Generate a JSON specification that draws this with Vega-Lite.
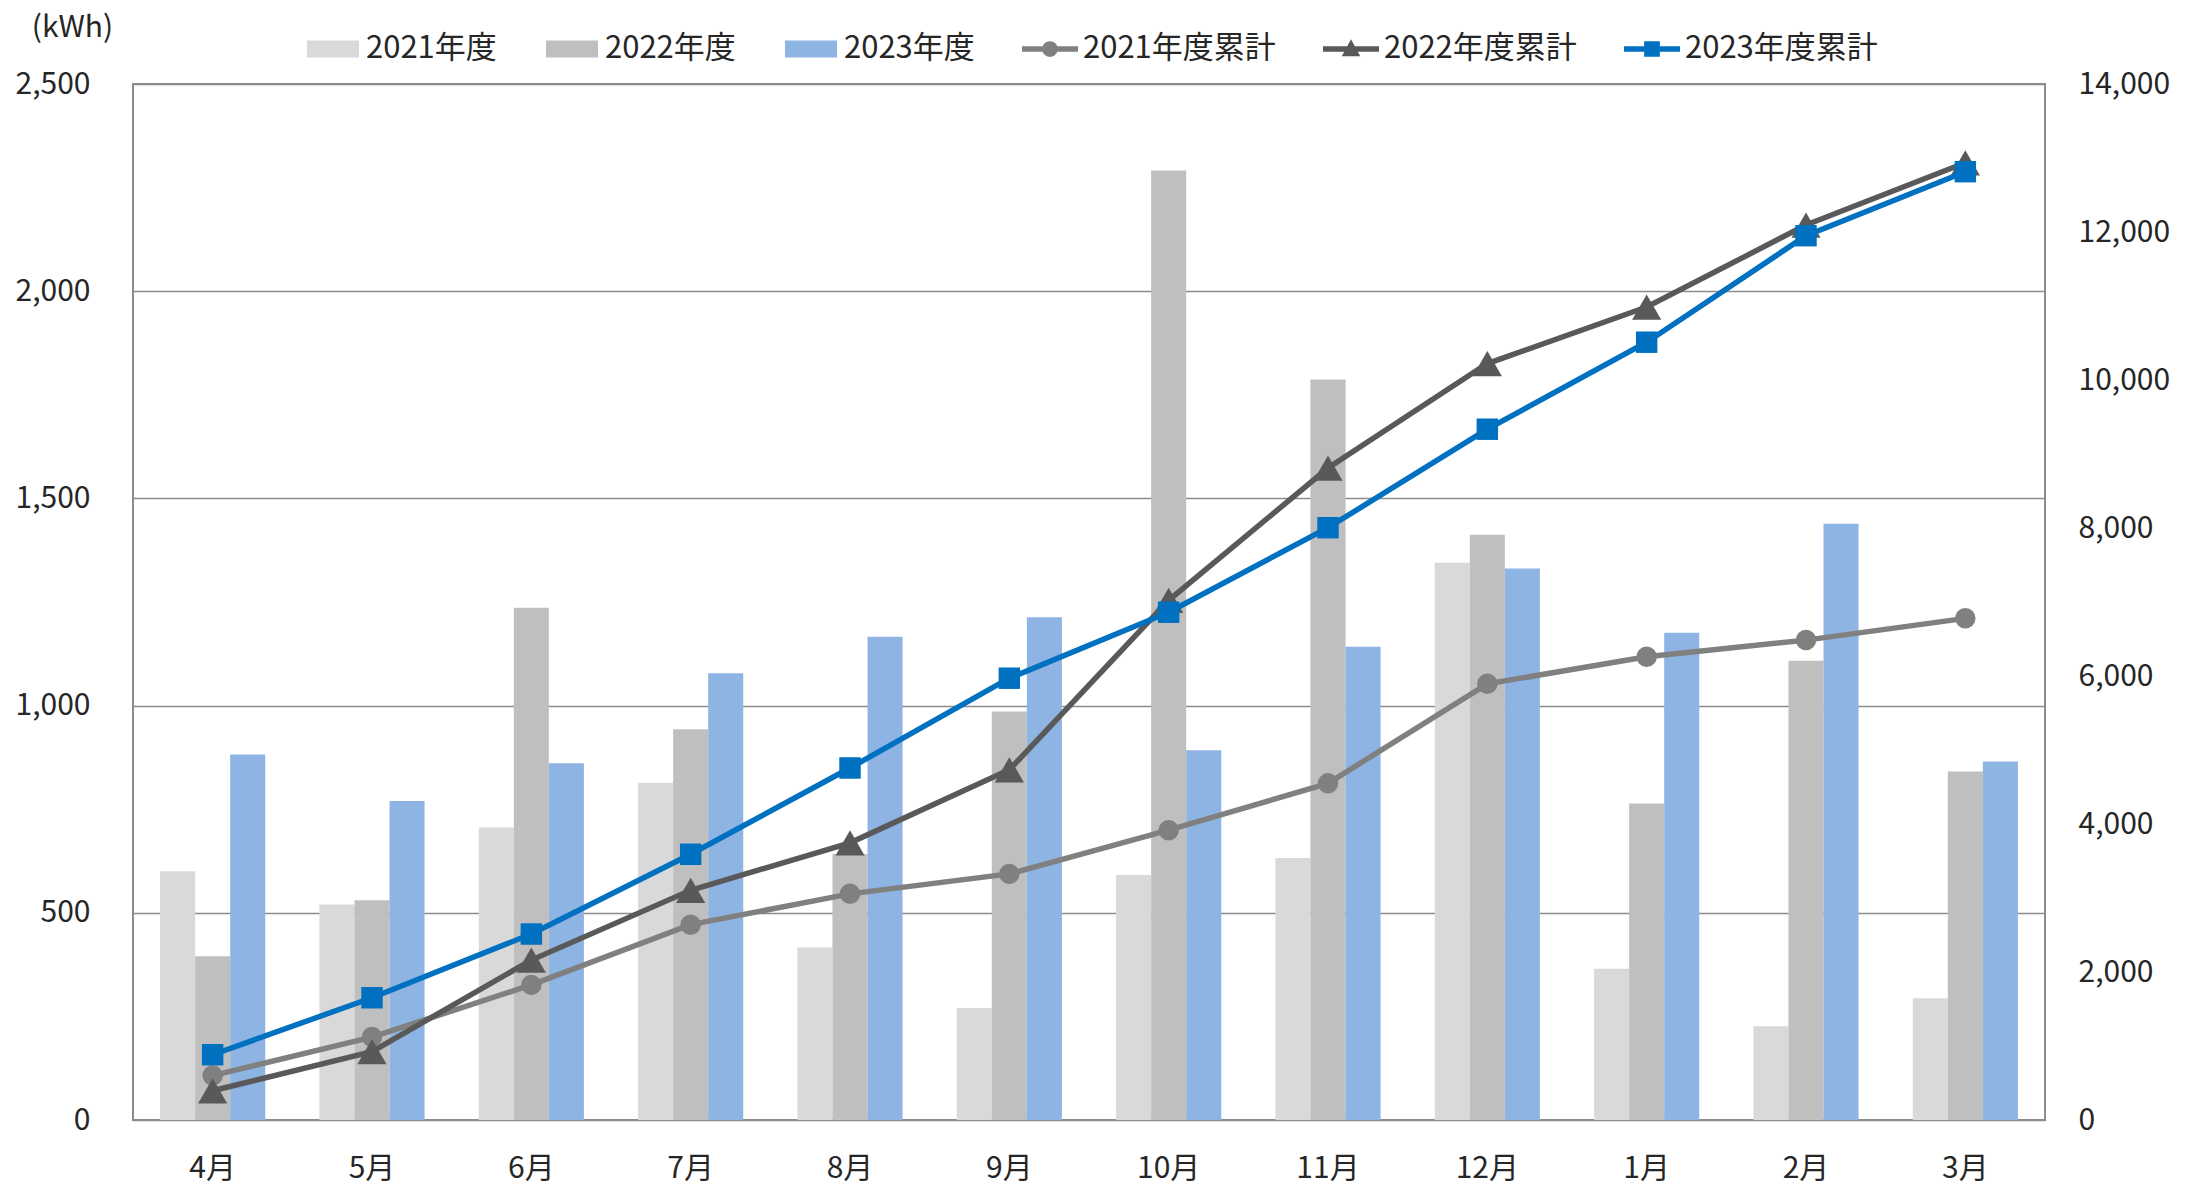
{
  "$schema": "https://vega.github.io/schema/vega-lite/v6.json",
  "width": 1912,
  "height": 1036,
  "autosize": "none",
  "padding": {"left": 133, "top": 84, "right": 151, "bottom": 72},
  "background": "white",
  "config": {
    "font": "Noto Sans CJK JP",
    "view": {"stroke": "#8c8c8c", "strokeWidth": 2},
    "axis": {"labelFont": "Noto Sans CJK JP", "labelFontSize": 30, "labelColor": "#262626", "ticks": false, "domain": false}
  },
  "datasets": {
    "bars": [
      {"month": "4月", "series": "2021年度", "value": 600},
      {"month": "5月", "series": "2021年度", "value": 520},
      {"month": "6月", "series": "2021年度", "value": 706},
      {"month": "7月", "series": "2021年度", "value": 814},
      {"month": "8月", "series": "2021年度", "value": 416},
      {"month": "9月", "series": "2021年度", "value": 270},
      {"month": "10月", "series": "2021年度", "value": 591},
      {"month": "11月", "series": "2021年度", "value": 632},
      {"month": "12月", "series": "2021年度", "value": 1345},
      {"month": "1月", "series": "2021年度", "value": 365},
      {"month": "2月", "series": "2021年度", "value": 226},
      {"month": "3月", "series": "2021年度", "value": 294},
      {"month": "4月", "series": "2022年度", "value": 395},
      {"month": "5月", "series": "2022年度", "value": 530},
      {"month": "6月", "series": "2022年度", "value": 1236},
      {"month": "7月", "series": "2022年度", "value": 943},
      {"month": "8月", "series": "2022年度", "value": 642},
      {"month": "9月", "series": "2022年度", "value": 986},
      {"month": "10月", "series": "2022年度", "value": 2291},
      {"month": "11月", "series": "2022年度", "value": 1787},
      {"month": "12月", "series": "2022年度", "value": 1412},
      {"month": "1月", "series": "2022年度", "value": 764},
      {"month": "2月", "series": "2022年度", "value": 1108},
      {"month": "3月", "series": "2022年度", "value": 841},
      {"month": "4月", "series": "2023年度", "value": 882},
      {"month": "5月", "series": "2023年度", "value": 770},
      {"month": "6月", "series": "2023年度", "value": 861},
      {"month": "7月", "series": "2023年度", "value": 1078},
      {"month": "8月", "series": "2023年度", "value": 1166},
      {"month": "9月", "series": "2023年度", "value": 1213},
      {"month": "10月", "series": "2023年度", "value": 892},
      {"month": "11月", "series": "2023年度", "value": 1142},
      {"month": "12月", "series": "2023年度", "value": 1331},
      {"month": "1月", "series": "2023年度", "value": 1176},
      {"month": "2月", "series": "2023年度", "value": 1439},
      {"month": "3月", "series": "2023年度", "value": 865}
    ],
    "cum": [
      {"month": "4月", "series": "2021年度累計", "value": 600},
      {"month": "5月", "series": "2021年度累計", "value": 1120},
      {"month": "6月", "series": "2021年度累計", "value": 1826},
      {"month": "7月", "series": "2021年度累計", "value": 2640},
      {"month": "8月", "series": "2021年度累計", "value": 3056},
      {"month": "9月", "series": "2021年度累計", "value": 3326},
      {"month": "10月", "series": "2021年度累計", "value": 3917},
      {"month": "11月", "series": "2021年度累計", "value": 4549},
      {"month": "12月", "series": "2021年度累計", "value": 5894},
      {"month": "1月", "series": "2021年度累計", "value": 6259},
      {"month": "2月", "series": "2021年度累計", "value": 6485},
      {"month": "3月", "series": "2021年度累計", "value": 6779},
      {"month": "4月", "series": "2022年度累計", "value": 395},
      {"month": "5月", "series": "2022年度累計", "value": 925},
      {"month": "6月", "series": "2022年度累計", "value": 2161},
      {"month": "7月", "series": "2022年度累計", "value": 3104},
      {"month": "8月", "series": "2022年度累計", "value": 3746},
      {"month": "9月", "series": "2022年度累計", "value": 4732},
      {"month": "10月", "series": "2022年度累計", "value": 7023},
      {"month": "11月", "series": "2022年度累計", "value": 8810},
      {"month": "12月", "series": "2022年度累計", "value": 10222},
      {"month": "1月", "series": "2022年度累計", "value": 10986},
      {"month": "2月", "series": "2022年度累計", "value": 12094},
      {"month": "3月", "series": "2022年度累計", "value": 12935},
      {"month": "4月", "series": "2023年度累計", "value": 882},
      {"month": "5月", "series": "2023年度累計", "value": 1652},
      {"month": "6月", "series": "2023年度累計", "value": 2513},
      {"month": "7月", "series": "2023年度累計", "value": 3591},
      {"month": "8月", "series": "2023年度累計", "value": 4757},
      {"month": "9月", "series": "2023年度累計", "value": 5970},
      {"month": "10月", "series": "2023年度累計", "value": 6862},
      {"month": "11月", "series": "2023年度累計", "value": 8004},
      {"month": "12月", "series": "2023年度累計", "value": 9335},
      {"month": "1月", "series": "2023年度累計", "value": 10511},
      {"month": "2月", "series": "2023年度累計", "value": 11950},
      {"month": "3月", "series": "2023年度累計", "value": 12815}
    ]
  },
  "layer": [
    {
      "data": {"name": "bars"},
      "mark": {"type": "bar"},
      "encoding": {
        "x": {
          "field": "month", "type": "nominal",
          "sort": ["4月","5月","6月","7月","8月","9月","10月","11月","12月","1月","2月","3月"],
          "scale": {"paddingInner": 0.34, "paddingOuter": 0.17},
          "axis": {"title": null, "labelAngle": 0, "labelPadding": 33}
        },
        "xOffset": {
          "field": "series", "type": "nominal",
          "sort": ["2021年度","2022年度","2023年度"],
          "scale": {"paddingInner": 0, "paddingOuter": 0}
        },
        "y": {
          "field": "value", "type": "quantitative",
          "scale": {"domain": [0, 2500], "nice": false},
          "axis": {
            "orient": "left",
            "values": [0, 500, 1000, 1500, 2000, 2500],
            "format": ",d",
            "labelPadding": 43,
            "grid": true, "gridColor": "#8c8c8c", "gridWidth": 1.5,
            "title": "(kWh)", "titleAngle": 0, "titleX": -61, "titleY": -57,
            "titleAlign": "center", "titleBaseline": "middle",
            "titleFontSize": 30, "titleFontWeight": "normal", "titleColor": "#262626",
            "titleFont": "Noto Sans CJK JP"
          }
        },
        "color": {
          "field": "series", "type": "nominal",
          "scale": {
            "domain": ["2021年度","2022年度","2023年度","2021年度累計","2022年度累計","2023年度累計"],
            "range": ["#D9D9D9","#BFBFBF","#8EB4E3","#808080","#595959","#0070C0"]
          },
          "legend": {
            "orient": "none", "legendX": 172, "legendY": -63,
            "direction": "horizontal", "columns": 6,
            "title": null, "padding": 0,
            "labelFont": "Noto Sans CJK JP", "labelFontSize": 31, "labelColor": "#262626", "labelLimit": 400,
            "symbolSize": 3136, "columnPadding": 47, "labelOffset": 5,
            "encode": {
              "symbols": {
                "update": {
                  "shape": {"signal": "indexof(datum.value,'累計')<0 ? 'M-0.93,-0.3H0.93V0.3H-0.93Z' : (indexof(datum.value,'2021')>=0 ? 'M-1,-0.1H1V0.1H-1ZM0.28,0A0.28,0.28 0 1,1 -0.28,0A0.28,0.28 0 1,1 0.28,0Z' : (indexof(datum.value,'2022')>=0 ? 'M-1,-0.1H1V0.1H-1ZM0,-0.35L0.33,0.26L-0.33,0.26Z' : 'M-1,-0.1H1V0.1H-1ZM-0.28,-0.28H0.28V0.28H-0.28Z'))"},
                  "fill": {"scale": "color", "field": "value"},
                  "stroke": {"value": "transparent"},
                  "strokeWidth": {"value": 0},
                  "opacity": {"value": 1},
                  "fillOpacity": {"value": 1}
                }
              }
            }
          }
        }
      }
    },
    {
      "data": {"name": "cum"},
      "encoding": {
        "x": {
          "field": "month", "type": "nominal",
          "sort": ["4月","5月","6月","7月","8月","9月","10月","11月","12月","1月","2月","3月"]
        },
        "y": {
          "field": "value", "type": "quantitative",
          "scale": {"domain": [0, 14000], "nice": false},
          "axis": {
            "orient": "right",
            "values": [0, 2000, 4000, 6000, 8000, 10000, 12000, 14000],
            "format": ",d",
            "labelPadding": 33,
            "grid": false,
            "title": null
          }
        },
        "color": {
          "field": "series", "type": "nominal",
          "scale": {
            "domain": ["2021年度","2022年度","2023年度","2021年度累計","2022年度累計","2023年度累計"],
            "range": ["#D9D9D9","#BFBFBF","#8EB4E3","#808080","#595959","#0070C0"]
          }
        }
      },
      "layer": [
        {"transform": [{"filter": {"field": "series", "equal": "2021年度累計"}}], "mark": {"type": "line", "strokeWidth": 5.5}},
        {"transform": [{"filter": {"field": "series", "equal": "2021年度累計"}}], "mark": {"type": "point", "shape": "circle", "size": 420, "filled": true, "opacity": 1}},
        {"transform": [{"filter": {"field": "series", "equal": "2022年度累計"}}], "mark": {"type": "line", "strokeWidth": 5.5}},
        {"transform": [{"filter": {"field": "series", "equal": "2022年度累計"}}], "mark": {"type": "point", "shape": "triangle-up", "size": 850, "filled": true, "opacity": 1}},
        {"transform": [{"filter": {"field": "series", "equal": "2023年度累計"}}], "mark": {"type": "line", "strokeWidth": 5.5}},
        {"transform": [{"filter": {"field": "series", "equal": "2023年度累計"}}], "mark": {"type": "point", "shape": "square", "size": 460, "filled": true, "opacity": 1}}
      ]
    }
  ],
  "resolve": {"scale": {"y": "independent"}}
}
